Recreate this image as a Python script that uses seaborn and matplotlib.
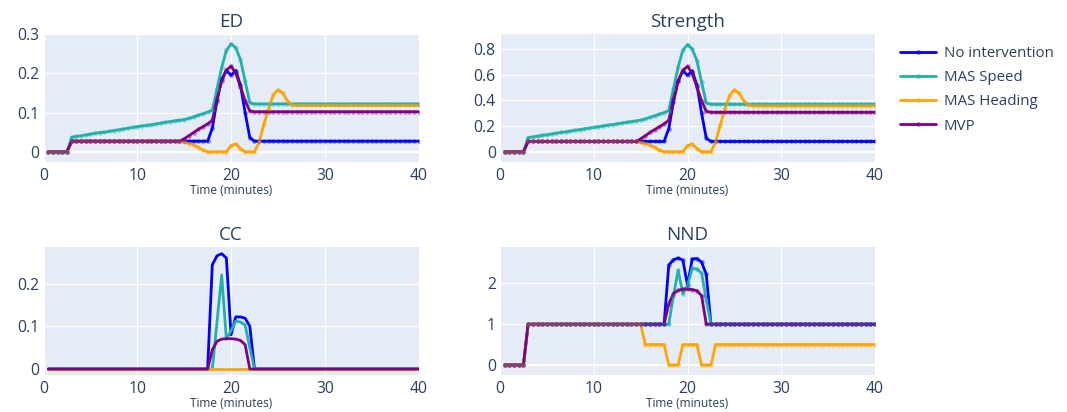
import numpy as np
import pandas as pd
import matplotlib
matplotlib.use("Agg")
import matplotlib.pyplot as plt
from matplotlib.lines import Line2D
from matplotlib.colors import to_rgba
import seaborn as sns

# sample times (minutes), one sample every 30 s
time_min = np.arange(0.5, 40.01, 0.5)

series_names = ["No intervention", "MAS Speed", "MAS Heading", "MVP"]
series_colors = ["blue", "lightseagreen", "orange", "purple"]

# --- ED ---
ed_none = ([0.0] * 5 + [0.027] * 30
           + [0.06, 0.13, 0.185, 0.207, 0.195, 0.207, 0.17, 0.1, 0.036]
           + [0.027] * 36)
ed_speed = ([0.0] * 5
            + [0.037, 0.039, 0.041, 0.043, 0.045, 0.047, 0.049, 0.050, 0.052, 0.054,
               0.056, 0.058, 0.060, 0.062, 0.064, 0.066, 0.067, 0.069, 0.071, 0.073,
               0.075, 0.077, 0.079, 0.080, 0.082]
            + [0.085, 0.089, 0.093, 0.097, 0.101, 0.106]
            + [0.16, 0.215, 0.258, 0.275, 0.265, 0.235, 0.18, 0.125]
            + [0.122] * 36)
ed_heading = ([0.0] * 5 + [0.027] * 24
              + [0.024, 0.021, 0.018, 0.011, 0.004, 0.0]
              + [0.0] * 4
              + [0.016, 0.02, 0.008]
              + [0.0] * 3
              + [0.025, 0.07, 0.11, 0.145, 0.158, 0.15, 0.13, 0.12]
              + [0.118] * 27)
ed_mvp = ([0.0] * 5 + [0.027] * 24
          + [0.033, 0.041, 0.049, 0.057, 0.064, 0.071, 0.08]
          + [0.135, 0.18, 0.208, 0.218, 0.2, 0.166, 0.13, 0.104]
          + [0.102] * 36)

# --- Strength ---
st_none = ([0.0] * 5 + [0.08] * 30
           + [0.18, 0.39, 0.55, 0.63, 0.595, 0.63, 0.52, 0.3, 0.105]
           + [0.08] * 36)
st_speed = ([0.0] * 5
            + [0.110, 0.116, 0.121, 0.127, 0.133, 0.138, 0.144, 0.150, 0.155, 0.161,
               0.167, 0.172, 0.178, 0.184, 0.189, 0.195, 0.201, 0.206, 0.212, 0.218,
               0.223, 0.229, 0.235, 0.240, 0.246]
            + [0.256, 0.268, 0.28, 0.293, 0.305, 0.32]
            + [0.49, 0.66, 0.79, 0.835, 0.8, 0.71, 0.54, 0.38]
            + [0.37] * 36)
st_heading = ([0.0] * 5 + [0.08] * 24
              + [0.072, 0.063, 0.053, 0.033, 0.012, 0.0]
              + [0.0] * 4
              + [0.048, 0.06, 0.025]
              + [0.0] * 3
              + [0.075, 0.21, 0.335, 0.44, 0.482, 0.455, 0.395, 0.365]
              + [0.358] * 27)
st_mvp = ([0.0] * 5 + [0.08] * 24
          + [0.1, 0.125, 0.15, 0.173, 0.195, 0.217, 0.245]
          + [0.41, 0.55, 0.635, 0.665, 0.61, 0.505, 0.395, 0.315]
          + [0.307] * 36)

# --- CC ---
cc_none = ([0.0] * 35
           + [0.244, 0.265, 0.27, 0.26, 0.08, 0.122, 0.122, 0.119, 0.1]
           + [0.0] * 36)
cc_speed = ([0.0] * 36
            + [0.11, 0.22, 0.07, 0.09, 0.112, 0.11, 0.103, 0.05]
            + [0.0] * 36)
cc_heading = [0.0] * 80
cc_mvp = ([0.0] * 35
          + [0.045, 0.065, 0.07, 0.071, 0.071, 0.07, 0.067, 0.057]
          + [0.0] * 37)

# --- NND ---
nnd_none = ([0.0] * 5 + [1.0] * 30
            + [2.45, 2.58, 2.62, 2.57, 1.96, 2.6, 2.61, 2.52, 2.22]
            + [1.0] * 36)
nnd_speed = ([0.0] * 5 + [1.0] * 31
             + [1.7, 2.32, 1.75, 1.95, 2.37, 2.35, 2.25, 1.6]
             + [1.0] * 36)
nnd_heading = ([0.0] * 5 + [1.0] * 25 + [0.5] * 5 + [0.0] * 3
               + [0.5] * 4 + [0.0] * 3 + [0.5] * 35)
nnd_mvp = ([0.0] * 5 + [1.0] * 30
           + [1.5, 1.75, 1.83, 1.86, 1.86, 1.85, 1.82, 1.7]
           + [1.0] * 37)

ed_yticks = [0, 0.1, 0.2, 0.3]
st_yticks = [0, 0.2, 0.4, 0.6, 0.8]
cc_yticks = [0, 0.1, 0.2]
nnd_yticks = [0, 1, 2]
x_ticks = [0, 10, 20, 30, 40]

TEXT_COLOR = "#2a3f5f"
BG_COLOR = "#E5ECF6"


def to_long(series_list):
    """Long-form frame (time, value, method) for one panel."""
    frames = []
    for name, values in zip(series_names, series_list):
        frames.append(pd.DataFrame({"Time": time_min, "Value": values, "Method": name}))
    return pd.concat(frames, ignore_index=True)


def fmt_tick(v):
    return "0" if v == 0 else f"{v:g}"


def draw_panel(ax, title, series_list, yticks, ylim, show_markers=True):
    df = to_long(series_list)
    ax.set_facecolor(BG_COLOR)
    ax.axhline(0, color="white", lw=1.6, zorder=1)

    sns.lineplot(data=df, x="Time", y="Value", hue="Method", hue_order=series_names,
                 palette=series_colors, lw=2.0, errorbar=None, legend=False, ax=ax,
                 zorder=3)
    if show_markers:
        # faint dots on every sample, one series at a time
        for i, (name, color) in enumerate(zip(series_names, series_colors)):
            sub = df[df["Method"] == name]
            ax.scatter(sub["Time"], sub["Value"], s=11, color=color, alpha=0.45,
                       linewidths=0, zorder=3 + 0.1 * i)

    ax.set_xlim(0, 40)
    ax.set_ylim(*ylim)
    ax.set_xticks(x_ticks)
    ax.set_xticklabels([str(t) for t in x_ticks])
    ax.set_yticks(yticks)
    ax.set_yticklabels([fmt_tick(v) for v in yticks])
    ax.grid(True, color="white", lw=0.8)
    ax.set_axisbelow(True)
    for s in ax.spines.values():
        s.set_visible(False)
    ax.tick_params(axis="both", length=0, labelsize=11.3, colors=TEXT_COLOR)
    ax.tick_params(axis="y", pad=3)
    ax.tick_params(axis="x", pad=4)
    ax.set_xlabel("Time (minutes)", fontsize=8.6, color=TEXT_COLOR, labelpad=0.5)
    ax.set_ylabel("")
    ax.set_title(title, fontsize=13.5, color=TEXT_COLOR, pad=5)


sns.set_theme(style="darkgrid")
plt.rcParams["font.family"] = ["Open Sans", "DejaVu Sans"]

fig = plt.figure(figsize=(10.67, 4.12), dpi=100)
fig.patch.set_facecolor("white")

ax_ed = fig.add_axes([0.0408, 0.6068, 0.3515, 0.3107])
ax_st = fig.add_axes([0.4686, 0.6068, 0.3515, 0.3107])
ax_cc = fig.add_axes([0.0408, 0.0898, 0.3515, 0.3100])
ax_nnd = fig.add_axes([0.4686, 0.0898, 0.3515, 0.3100])

draw_panel(ax_ed, "ED", [ed_none, ed_speed, ed_heading, ed_mvp], ed_yticks, (-0.026, 0.3))
draw_panel(ax_st, "Strength", [st_none, st_speed, st_heading, st_mvp], st_yticks, (-0.08, 0.917))
draw_panel(ax_cc, "CC", [cc_none, cc_speed, cc_heading, cc_mvp], cc_yticks, (-0.014, 0.285),
           show_markers=False)
draw_panel(ax_nnd, "NND", [nnd_none, nnd_speed, nnd_heading, nnd_mvp], nnd_yticks, (-0.245, 2.885))

# legend: line with a faint dot in the middle, like the original
handles = [Line2D([0], [0], color=c, lw=2.0, marker="o", markersize=3.5,
                  markerfacecolor=to_rgba(c, 0.5), markeredgewidth=0)
           for c in series_colors]
fig.legend(handles, series_names, loc="upper left", bbox_to_anchor=(0.836, 0.907),
           frameon=False, fontsize=10.8, handlelength=2.45, handletextpad=0.5,
           labelspacing=0.62, borderpad=0, numpoints=1, labelcolor=TEXT_COLOR)

fig.savefig("out.png", dpi=100)
